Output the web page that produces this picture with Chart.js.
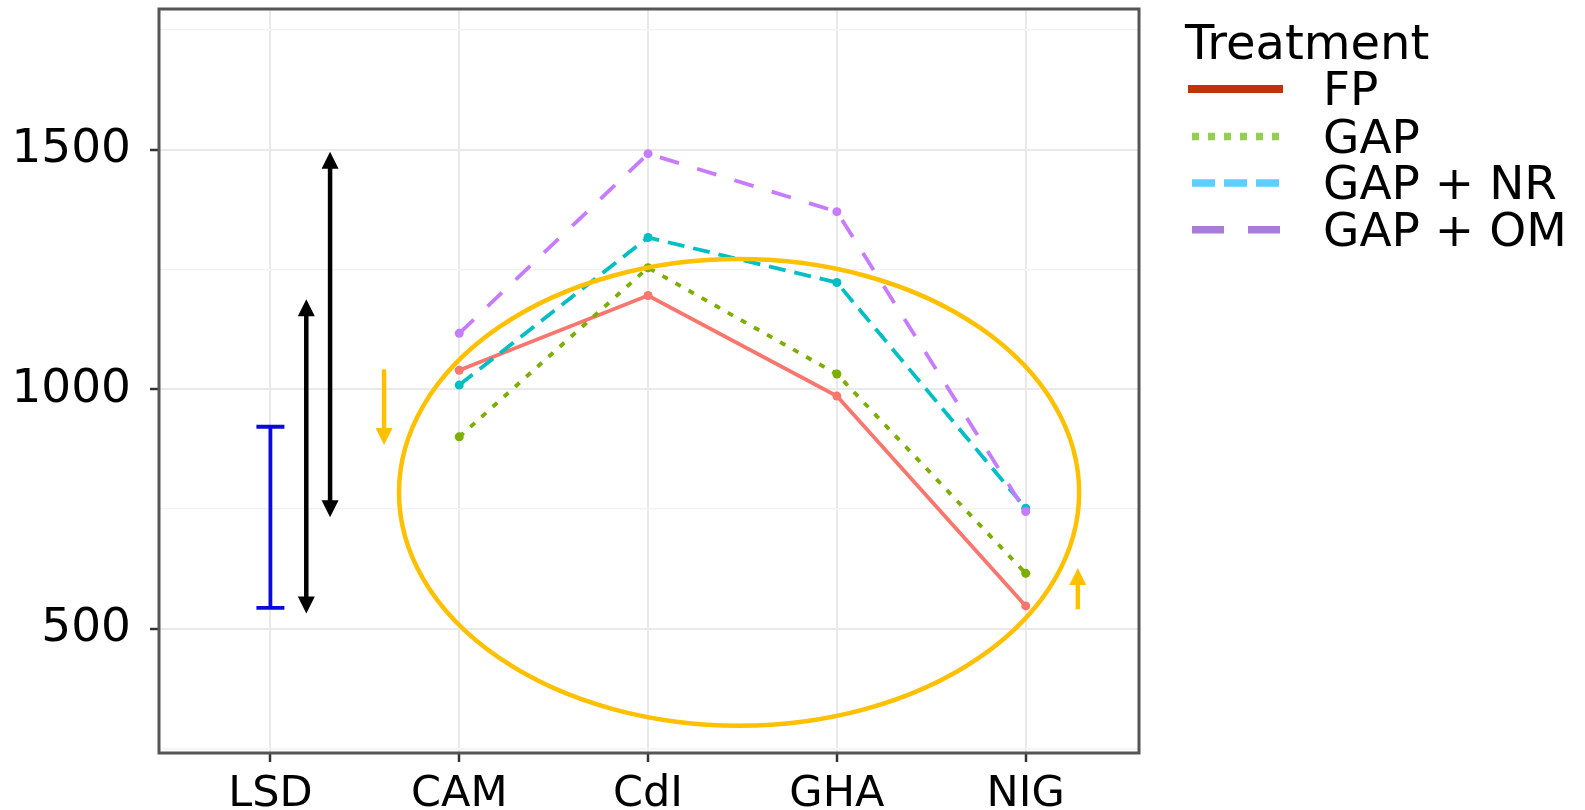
<!DOCTYPE html>
<html>
<head>
<meta charset="utf-8">
<script src="https://cdn.jsdelivr.net/npm/chart.js@4.4.1/dist/chart.umd.min.js"></script>
<style>
  html, body { margin: 0; padding: 0; background: #fff; }
  #wrap { width: 1585px; height: 810px; position: relative; }
</style>
</head>
<body>
<div id="wrap"><canvas id="yieldChart"></canvas></div>
<script>
const sites = ['LSD', 'CAM', 'CdI', 'GHA', 'NIG'];
const treatments = ['FP', 'GAP', 'GAP + NR', 'GAP + OM'];
// values for CAM, CdI, GHA, NIG
const fpValues = [1040, 1196, 986, 548];
const gapValues = [901, 1254, 1032, 616];
const gapNrValues = [1009, 1317, 1223, 752];
const gapOmValues = [1117, 1492, 1371, 745];
const yTicks = [250, 500, 750, 1000, 1250, 1500, 1750];
const yLabels = [500, 1000, 1500];

// annotations (x in site index, y in axis units)
const lsdBar = { x: 0, low: 544, high: 922 };
const blackArrows = [{ x: 0.19, from: 532, to: 1188 }, { x: 0.316, from: 733, to: 1496 }];
const orangeArrows = [{ x: 0.602, from: 1042, to: 884 }, { x: 4.276, from: 541, to: 627 }];
const highlight = { x: 2.482, y: 785, rx: 1.801, ry: 487 };

const lineColors = ['#F8766D', '#7CAE00', '#00BFC4', '#C77CFF'];
const lineDashes = [[], [6, 9], [17, 9], [20, 19]];
const keyColors = ['#C0330A', '#92D050', '#5BD0FF', '#AB7BD8'];
const keyDashes = [[], [7, 9], [23, 9], [32, 24]];
const FONT = "'DejaVu Sans', Verdana, sans-serif";

function toPoints(values) {
    return values.map((v, i) => ({ x: i + 1, y: v }));
}

function arrowHead(ctx, x, tipY, dir, len, w) {
    ctx.beginPath();
    ctx.moveTo(x, tipY);
    ctx.lineTo(x - w / 2, tipY + dir * len);
    ctx.lineTo(x + w / 2, tipY + dir * len);
    ctx.closePath();
    ctx.fill();
}

function drawArrow(ctx, x, y1, y2, color, both) {
    // y1 = tail, y2 = tip (pixels)
    const dir = y2 < y1 ? 1 : -1;
    const len = 17, w = 17;
    ctx.save();
    ctx.strokeStyle = color;
    ctx.fillStyle = color;
    ctx.lineWidth = 4.5;
    ctx.beginPath();
    ctx.moveTo(x, both ? y1 - dir * len * 0.8 : y1);
    ctx.lineTo(x, y2 + dir * len * 0.8);
    ctx.stroke();
    arrowHead(ctx, x, y2, dir, len, w);
    if (both) arrowHead(ctx, x, y1, -dir, len, w);
    ctx.restore();
}

const annotations = {
    id: 'annotations',
    afterDatasetsDraw(chart) {
        const ctx = chart.ctx;
        const xs = chart.scales.x, ys = chart.scales.y;

        // LSD bar
        const bx = xs.getPixelForValue(lsdBar.x);
        const bTop = ys.getPixelForValue(lsdBar.high);
        const bBot = ys.getPixelForValue(lsdBar.low);
        ctx.save();
        ctx.strokeStyle = '#0A0ADC';
        ctx.lineWidth = 3.8;
        ctx.beginPath();
        ctx.moveTo(bx, bTop); ctx.lineTo(bx, bBot);
        ctx.moveTo(bx - 14, bTop); ctx.lineTo(bx + 14, bTop);
        ctx.moveTo(bx - 14, bBot); ctx.lineTo(bx + 14, bBot);
        ctx.stroke();
        ctx.restore();

        blackArrows.forEach(a => {
            drawArrow(ctx, xs.getPixelForValue(a.x), ys.getPixelForValue(a.from), ys.getPixelForValue(a.to), '#000', true);
        });
        orangeArrows.forEach(a => {
            drawArrow(ctx, xs.getPixelForValue(a.x), ys.getPixelForValue(a.from), ys.getPixelForValue(a.to), '#FFC000', false);
        });

        // ellipse
        const cx = xs.getPixelForValue(highlight.x);
        const cy = ys.getPixelForValue(highlight.y);
        const rx = Math.abs(xs.getPixelForValue(highlight.x + highlight.rx) - cx);
        const ry = Math.abs(ys.getPixelForValue(highlight.y + highlight.ry) - cy);
        ctx.save();
        ctx.strokeStyle = '#FFC000';
        ctx.lineWidth = 4.5;
        ctx.beginPath();
        ctx.ellipse(cx, cy, rx, ry, 0, 0, Math.PI * 2);
        ctx.stroke();
        ctx.restore();
    },
    afterDraw(chart) {
        const ctx = chart.ctx;
        const a = chart.chartArea;
        // panel border
        ctx.save();
        ctx.strokeStyle = '#555';
        ctx.lineWidth = 3;
        ctx.strokeRect(a.left, a.top, a.right - a.left, a.bottom - a.top);

        // legend
        ctx.fillStyle = '#000';
        ctx.textAlign = 'left';
        ctx.textBaseline = 'alphabetic';
        ctx.font = '48px ' + FONT;
        ctx.fillText('Treatment', 1185, 59);
        ctx.font = '47px ' + FONT;
        const rows = [89, 136.5, 183, 229.7];
        treatments.forEach((t, i) => {
            const y = rows[i];
            ctx.save();
            ctx.strokeStyle = keyColors[i];
            ctx.lineWidth = i === 0 ? 8 : 7.5;
            ctx.lineCap = 'butt';
            ctx.setLineDash(keyDashes[i]);
            ctx.beginPath();
            ctx.moveTo(i === 0 ? 1188 : 1192, y);
            ctx.lineTo(i === 0 ? 1283 : 1281, y);
            ctx.stroke();
            ctx.restore();
            ctx.fillText(t, 1323, y + 16);
        });
        ctx.restore();
    }
};

const datasets = [fpValues, gapValues, gapNrValues, gapOmValues].map((vals, i) => ({
    label: treatments[i],
    data: toPoints(vals),
    borderColor: lineColors[i],
    backgroundColor: lineColors[i],
    borderWidth: 3.8,
    borderDash: lineDashes[i],
    pointRadius: 4.5,
    pointBorderWidth: 0,
    pointBackgroundColor: lineColors[i],
    tension: 0,
    order: 4 - i
}));

const isMajor = c => c.tick && yLabels.includes(c.tick.value);

function noPadding(s) {
    s.paddingTop = 0;
    s.paddingBottom = 0;
    s.paddingLeft = 0;
    s.paddingRight = 0;
}

new Chart(document.getElementById('yieldChart').getContext('2d'), {
    type: 'line',
    data: { datasets: datasets },
    options: {
        responsive: true,
        maintainAspectRatio: false,
        animation: false,
        layout: { padding: { left: 0, top: 9, right: 446, bottom: 0 } },
        plugins: {
            legend: { display: false },
            tooltip: { enabled: false }
        },
        scales: {
            x: {
                type: 'linear',
                min: -0.59,
                max: 4.6,
                afterBuildTicks: s => { s.ticks = sites.map((_, i) => ({ value: i })); },
                afterFit: s => { s.height = 57; noPadding(s); },
                border: { display: false },
                grid: { color: '#E9E9E9', lineWidth: 2, tickLength: 9, tickColor: '#333', tickWidth: 2.5 },
                ticks: {
                    autoSkip: false,
                    maxRotation: 0,
                    padding: 7,
                    color: '#000',
                    font: { family: FONT, size: 43 },
                    callback: v => sites[v]
                }
            },
            y: {
                min: 241,
                max: 1794,
                afterBuildTicks: s => { s.ticks = yTicks.map(v => ({ value: v })); },
                afterFit: s => { s.width = 159; noPadding(s); },
                border: { display: false },
                grid: {
                    color: c => isMajor(c) ? '#E9E9E9' : '#F3F3F3',
                    lineWidth: c => isMajor(c) ? 2 : 1.5,
                    tickLength: 9,
                    tickColor: c => isMajor(c) ? '#333' : 'rgba(0,0,0,0)',
                    tickWidth: 2.5
                },
                ticks: {
                    autoSkip: false,
                    padding: 19,
                    color: '#000',
                    font: { family: FONT, size: 47 },
                    callback: v => yLabels.includes(v) ? String(v) : ''
                }
            }
        }
    },
    plugins: [annotations]
});
</script>
</body>
</html>
